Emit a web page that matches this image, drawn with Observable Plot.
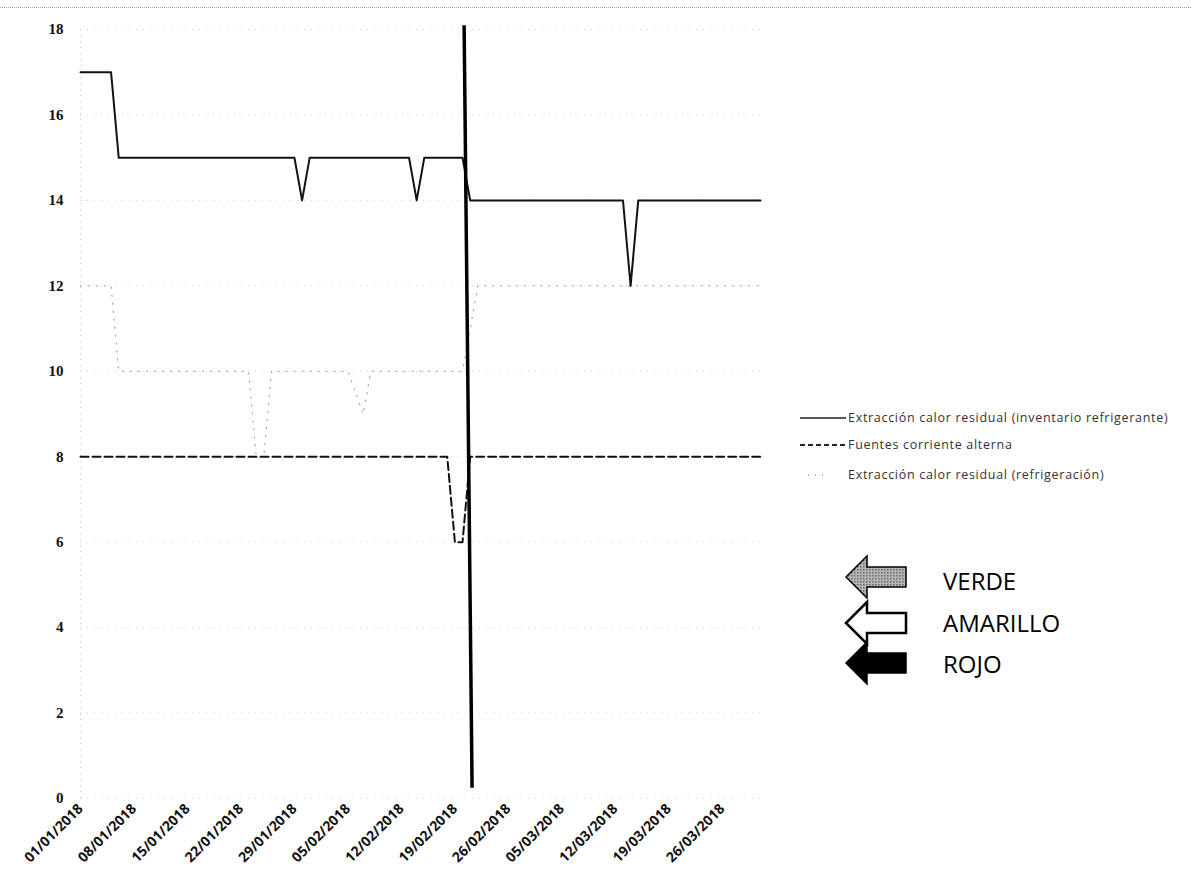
<!DOCTYPE html>
<html>
<head>
<meta charset="utf-8">
<script src="https://cdn.jsdelivr.net/npm/d3@7"></script>
<script src="https://cdn.jsdelivr.net/npm/@observablehq/plot@0.6"></script>
<style>
  html, body { margin: 0; padding: 0; background: #fff; }
  #wrap { position: relative; width: 1191px; height: 885px; overflow: hidden; }
  #chart { position: absolute; left: 0; top: 0; }
  #topline { position: absolute; left: 0; top: 7px; width: 1191px; border-top: 1px dotted #9a9a9a; }
  #legend { position: absolute; left: 790px; top: 400px; }
  #arrows { position: absolute; left: 830px; top: 545px; }
</style>
</head>
<body>
<div id="wrap">
  <div id="topline"></div>
  <div id="chart"></div>
  <svg id="legend" width="400" height="90"></svg>
  <svg id="arrows" width="300" height="150"></svg>
</div>
<script>
// ---- data ----
const tickDates = ["2018-01-01","2018-01-08","2018-01-15","2018-01-22","2018-01-29","2018-02-05","2018-02-12",
                   "2018-02-19","2018-02-26","2018-03-05","2018-03-12","2018-03-19","2018-03-26"];
const yTicks = [0, 2, 4, 6, 8, 10, 12, 14, 16, 18];

const seriesNames = [
  "Extracción calor residual (inventario refrigerante)",
  "Fuentes corriente alterna",
  "Extracción calor residual (refrigeración)"
];

// Extracción calor residual (inventario refrigerante) – solid
const inventarioDates = ["2018-01-01","2018-01-05","2018-01-06","2018-01-29","2018-01-30","2018-01-31","2018-02-13",
                         "2018-02-14","2018-02-15","2018-02-20","2018-02-21","2018-03-13","2018-03-14","2018-03-15","2018-03-31"];
const inventarioValues = [17, 17, 15, 15, 14, 15, 15, 14, 15, 15, 14, 14, 12, 14, 14];

// Fuentes corriente alterna – dashed
const fuentesDates = ["2018-01-01","2018-02-18","2018-02-19","2018-02-20","2018-02-21","2018-03-31"];
const fuentesValues = [8, 8, 6, 6, 8, 8];

// Extracción calor residual (refrigeración) – faint dotted
const refrigDates = ["2018-01-01","2018-01-05","2018-01-06","2018-01-23","2018-01-24","2018-01-25","2018-01-26",
                     "2018-02-05","2018-02-07","2018-02-08","2018-02-20","2018-02-22","2018-03-31"];
const refrigValues = [12, 12, 10, 10, 8, 8, 10, 10, 9, 10, 10, 12, 12];

// Vertical marker line (slightly slanted, as drawn)
const markerStart = {date: "2018-02-20T05:00", value: 18.1};
const markerEnd = {date: "2018-02-21T06:00", value: 0.25};

const legendItems = ["VERDE", "AMARILLO", "ROJO"];

// ---- build tables ----
const toRows = (ds, vs) => ds.map((d, i) => ({date: new Date(d + (d.length === 10 ? "T00:00Z" : "Z")), value: vs[i]}));
const inventario = toRows(inventarioDates, inventarioValues);
const fuentes = toRows(fuentesDates, fuentesValues);
const refrig = toRows(refrigDates, refrigValues);
const tickD = tickDates.map(d => new Date(d + "T00:00Z"));
const marker = [{
  x1: new Date(markerStart.date + "Z"), y1: markerStart.value,
  x2: new Date(markerEnd.date + "Z"), y2: markerEnd.value
}];

const chart = Plot.plot({
  width: 790,
  height: 885,
  marginLeft: 80,
  marginRight: 30,
  marginTop: 29,
  marginBottom: 87,
  x: {type: "utc", domain: [new Date("2018-01-01T00:00Z"), new Date("2018-03-31T00:00Z")]},
  y: {domain: [0, 18]},
  style: {background: "transparent"},
  marks: [
    Plot.ruleY(yTicks, {stroke: "#cfcfcf", strokeDasharray: "1 6", strokeWidth: 1}),
    Plot.ruleX([tickD[0]], {x: d => d, stroke: "#c4c4c4", strokeDasharray: "1 5", y1: 0, y2: 18}),
    Plot.axisY({ticks: yTicks, tickSize: 0, tickPadding: 17, fontFamily: "Liberation Serif", fontWeight: "bold", fontSize: 15, fill: "#111", label: null}),
    Plot.axisX({ticks: tickD, tickFormat: d3.utcFormat("%d/%m/%Y"), tickRotate: -45, tickSize: 0, tickPadding: 8,
                fontFamily: "Open Sans", fontWeight: 700, fontSize: 14, fill: "#111", label: null}),
    Plot.line(refrig, {x: "date", y: "value", stroke: "#aaa", strokeWidth: 1.3, strokeDasharray: "1 7", curve: "linear"}),
    Plot.line(fuentes, {x: "date", y: "value", stroke: "#111", strokeWidth: 2, strokeDasharray: "8 4", curve: "linear"}),
    Plot.line(inventario, {x: "date", y: "value", stroke: "#111", strokeWidth: 2, curve: "linear"}),
    Plot.link(marker, {x1: "x1", y1: "y1", x2: "x2", y2: "y2", stroke: "#000", strokeWidth: 3.5})
  ]
});
document.getElementById("chart").appendChild(chart);

// ---- series legend ----
const lg = d3.select("#legend");
const rowsY = [18, 45, 75];
const styles = [
  {dash: null, stroke: "#222", w: 1.5, x1: 10, x2: 56},
  {dash: "5 3", stroke: "#222", w: 1.8, x1: 10, x2: 56},
  {dash: "1 6", stroke: "#999", w: 1.3, x1: 18, x2: 34}
];
seriesNames.forEach((name, i) => {
  const s = styles[i];
  lg.append("line").attr("x1", s.x1).attr("x2", s.x2).attr("y1", rowsY[i]).attr("y2", rowsY[i])
    .attr("stroke", s.stroke).attr("stroke-width", s.w).attr("stroke-dasharray", s.dash);
  lg.append("text").attr("x", 58).attr("y", rowsY[i] + 4).text(name)
    .attr("font-family", "Open Sans").attr("font-size", 12.5).attr("letter-spacing", 0.7).attr("fill", "#333");
});

// ---- arrow legend ----
const ar = d3.select("#arrows");
const defs = ar.append("defs");
const pat = defs.append("pattern").attr("id", "hatch").attr("width", 3).attr("height", 3).attr("patternUnits", "userSpaceOnUse");
pat.append("rect").attr("width", 3).attr("height", 3).attr("fill", "#b5b5b5");
pat.append("rect").attr("width", 1.5).attr("height", 1.5).attr("fill", "#6a6a6a");
const fills = ["url(#hatch)", "#fff", "#000"];
const centers = [32, 78, 118];
const baselineOffsets = [13, 9, 10];
const arrowPath = (cy) => {
  const tip = 16, headX = 37, end = 76, hh = 21, sh = 10;
  return `M${tip},${cy} L${headX},${cy - hh} L${headX},${cy - sh} L${end},${cy - sh} L${end},${cy + sh} L${headX},${cy + sh} L${headX},${cy + hh} Z`;
};
legendItems.forEach((lab, i) => {
  ar.append("path").attr("d", arrowPath(centers[i])).attr("fill", fills[i])
    .attr("stroke", "#000").attr("stroke-width", i === 1 ? 2.5 : 1.5).attr("stroke-linejoin", "miter");
  ar.append("text").attr("x", 113).attr("y", centers[i] + baselineOffsets[i]).text(lab)
    .attr("font-family", "Open Sans").attr("font-size", 24).attr("fill", "#000");
});
</script>
</body>
</html>
